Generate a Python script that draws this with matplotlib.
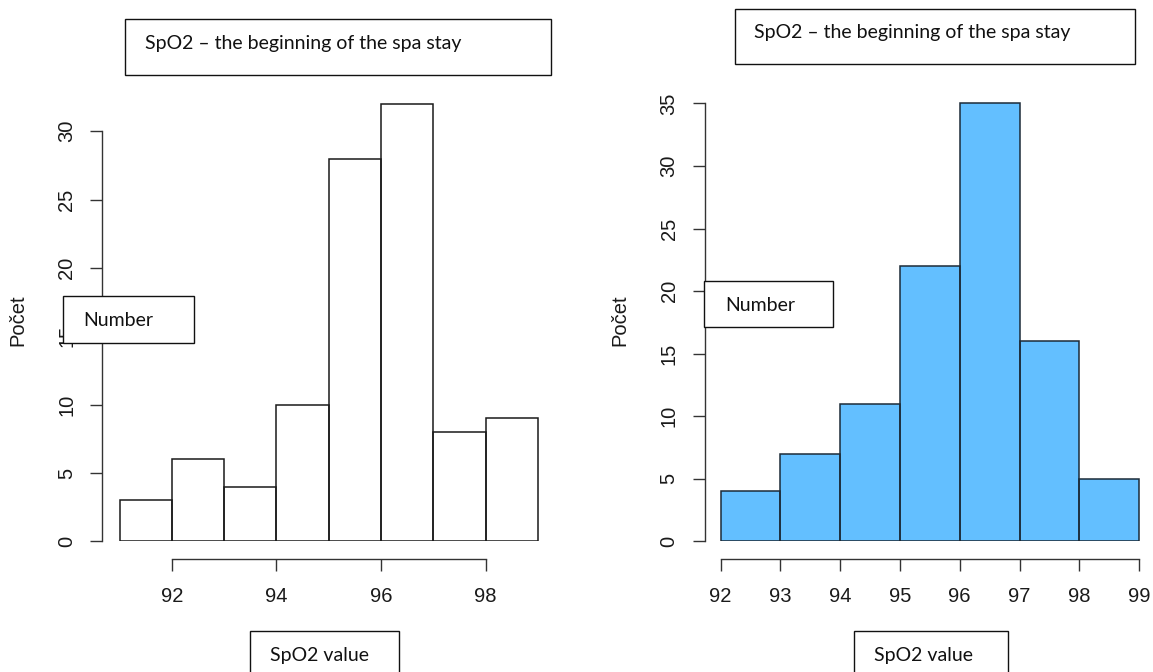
import numpy as np
import matplotlib
matplotlib.use("Agg")
import matplotlib.pyplot as plt
from matplotlib.patches import Rectangle

# histogram data
left_edges = [91, 92, 93, 94, 95, 96, 97, 98, 99]
left_counts = [3, 6, 4, 10, 28, 32, 8, 9]
left_xticks = [92, 94, 96, 98]
left_yticks = [0, 5, 10, 15, 20, 25, 30]

right_edges = [92, 93, 94, 95, 96, 97, 98, 99]
right_counts = [4, 7, 11, 22, 35, 16, 5]
right_xticks = [92, 93, 94, 95, 96, 97, 98, 99]
right_yticks = [0, 5, 10, 15, 20, 25, 30, 35]

title_text = "SpO2 \u2013 the beginning of the spa stay"
ylabel_text = "Po\u010det"

W, H = 1153, 672
fig = plt.figure(figsize=(W / 100, H / 100), dpi=100)
fig.patch.set_facecolor("white")

tick_font = "Liberation Sans"
box_font = "Lato"
ink = "#1a1a1a"


def make_hist(edges, counts, xticks, yticks, px_ref, x_ref, xscale, y0px, yscale,
              axis_px, xmax, ymax, face, edge):
    xmin = x_ref - (px_ref - axis_px) / xscale
    left = axis_px / W
    width = (xmax - xmin) * xscale / W
    bottom = (H - y0px) / H
    height = ymax * yscale / H
    ax = fig.add_axes([left, bottom, width, height])
    ax.set_xlim(xmin, xmax)
    ax.set_ylim(0, ymax)
    ax.stairs(counts, edges, fill=True, facecolor=face, edgecolor="none")
    ax.bar(edges[:-1], counts, width=np.diff(edges), align="edge",
           facecolor="none", edgecolor=edge, linewidth=1.1)
    for s in ["top", "right"]:
        ax.spines[s].set_visible(False)
    ax.spines["left"].set_bounds(yticks[0], yticks[-1])
    ax.spines["bottom"].set_bounds(xticks[0], xticks[-1])
    ax.spines["bottom"].set_position(("outward", 13))
    for s in ["left", "bottom"]:
        ax.spines[s].set_color("#333333")
        ax.spines[s].set_linewidth(1.0)
    ax.set_xticks(xticks)
    ax.set_yticks(yticks)
    ax.tick_params(axis="both", direction="out", length=8.6, width=1.0,
                   color="#333333", labelsize=14.5, labelcolor=ink)
    ax.tick_params(axis="y", pad=10, labelrotation=90)
    ax.tick_params(axis="x", pad=11)
    for lab in ax.get_xticklabels() + ax.get_yticklabels():
        lab.set_fontfamily(tick_font)
    for lab in ax.get_yticklabels():
        lab.set_verticalalignment("center")
    ax.patch.set_visible(False)
    return ax


ax1 = make_hist(left_edges, left_counts, left_xticks, left_yticks,
                px_ref=171.8, x_ref=92, xscale=52.3, y0px=541.3, yscale=13.67,
                axis_px=102.2, xmax=99.3, ymax=33, face="white", edge=ink)
ax2 = make_hist(right_edges, right_counts, right_xticks, right_yticks,
                px_ref=720.5, x_ref=92, xscale=59.8, y0px=541.3, yscale=12.51,
                axis_px=704.5, xmax=99.3, ymax=36, face="#63bfff", edge="#1c2b38")

# y axis labels
fig.text(18 / W, 1 - 320 / H, ylabel_text, rotation=90, ha="center", va="center",
         fontsize=14.5, family=tick_font, color=ink)
fig.text(620 / W, 1 - 320 / H, ylabel_text, rotation=90, ha="center", va="center",
         fontsize=14.5, family=tick_font, color=ink)


def box(x0, y0, x1, y1, tx, ty, text):
    r = Rectangle((x0 / W, 1 - y1 / H), (x1 - x0) / W, (y1 - y0) / H,
                  transform=fig.transFigure, facecolor="white", edgecolor="#111111",
                  linewidth=1.0, zorder=10)
    fig.add_artist(r)
    t = fig.text(tx / W, 1 - ty / H, text, ha="left", va="center", fontsize=14,
                 family=box_font, color="#111111", zorder=11)
    return t


box(125, 19, 551, 74.5, 145, 43, title_text)
box(734.5, 9, 1135, 64, 754.5, 32.5, title_text)
box(63.3, 295.7, 194, 342.7, 83.5, 320, "Number")
box(704.3, 281, 832.7, 327.3, 725, 305, "Number")
box(250, 631, 399, 690, 269.5, 656, "SpO2 value")
box(854, 631.5, 1008, 690, 874.5, 656, "SpO2 value")

fig.savefig("out.png", dpi=100, facecolor="white")
